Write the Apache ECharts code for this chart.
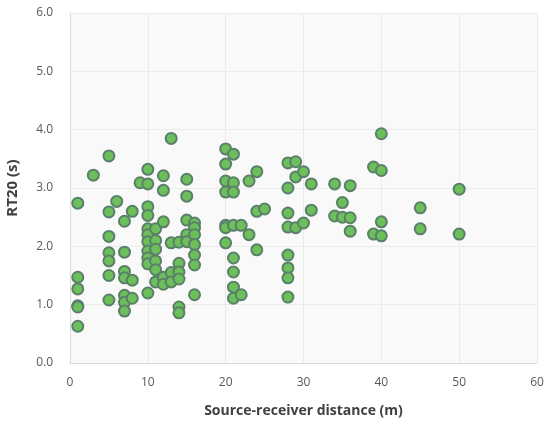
<!DOCTYPE html>
<html>
<head>
<meta charset="utf-8">
<script src="https://cdn.jsdelivr.net/npm/echarts@6/dist/echarts.min.js"></script>
<style>
  html,body{margin:0;padding:0;background:#fff;}
  #chart{width:547px;height:426px;}
</style>
</head>
<body>
<div id="chart"></div>
<script>
// source-receiver distance (m) -> RT20 values (s)
var distances = [1, 3, 5, 6, 7, 8, 9, 10, 11, 12, 13, 14, 15, 16, 20, 21, 22, 23, 24, 25, 28, 29, 30, 31, 34, 35, 36, 39, 40, 45, 50];
var rt20 = [
  [2.74, 1.47, 1.27, 0.98, 0.96, 0.63],
  [3.22],
  [3.55, 2.59, 2.17, 1.89, 1.75, 1.5, 1.08],
  [2.77],
  [2.43, 1.9, 1.57, 1.46, 1.16, 1.04, 0.89],
  [2.6, 1.42, 1.11],
  [3.09],
  [3.32, 3.07, 2.68, 2.53, 2.3, 2.2, 2.08, 1.92, 1.8, 1.7, 1.2],
  [2.3, 2.1, 1.95, 1.75, 1.6, 1.39],
  [3.21, 2.96, 2.42, 1.47, 1.35],
  [3.85, 2.06, 1.55, 1.39],
  [2.07, 1.71, 1.56, 1.44, 0.96, 0.86],
  [3.15, 2.86, 2.45, 2.2, 2.08],
  [2.4, 2.32, 2.2, 2.03, 1.85, 1.68, 1.17],
  [3.67, 3.41, 3.12, 2.93, 2.36, 2.32, 2.06],
  [3.58, 3.09, 2.93, 2.36, 1.8, 1.56, 1.3, 1.11],
  [2.36, 1.17],
  [3.12, 2.2],
  [3.28, 2.6, 1.94],
  [2.64],
  [3.43, 3.0, 2.57, 2.33, 1.85, 1.63, 1.46, 1.13],
  [3.45, 3.19, 2.32],
  [3.28, 2.4],
  [3.07, 2.62],
  [3.07, 2.52],
  [2.75, 2.5],
  [3.04, 2.49, 2.26],
  [3.36, 2.21],
  [3.93, 3.3, 2.42, 2.18],
  [2.66, 2.3],
  [2.98, 2.21]
];

var points = [];
for (var i = 0; i < distances.length; i++) {
  for (var j = 0; j < rt20[i].length; j++) {
    points.push([distances[i], rt20[i][j]]);
  }
}

var labelColor = '#595959';
var option = {
  backgroundColor: '#ffffff',
  animation: false,
  grid: {
    left: 70, right: 10, top: 13, bottom: 63,
    outerBoundsMode: 'none',
    containLabel: false,
    show: true, backgroundColor: '#f9f9f9', borderWidth: 0
  },
  xAxis: {
    type: 'value', min: 0, max: 60, interval: 10,
    name: 'Source-receiver distance (m)',
    nameLocation: 'middle', nameGap: 41,
    nameTextStyle: { fontFamily: 'Open Sans', fontWeight: 'bold', fontSize: 14, color: '#404040' },
    axisLine: { show: true, lineStyle: { color: '#d9d9d9', width: 1 } },
    axisTick: { show: false },
    axisLabel: { color: labelColor, fontFamily: 'Open Sans', fontSize: 12, margin: 14 },
    splitLine: { show: true, lineStyle: { color: '#ebebeb', width: 1 } }
  },
  yAxis: {
    type: 'value', min: 0, max: 6, interval: 1,
    name: 'RT20 (s)',
    nameLocation: 'middle', nameGap: 50, nameRotate: 90,
    nameTextStyle: { fontFamily: 'Open Sans', fontWeight: 'bold', fontSize: 15, color: '#404040' },
    axisLine: { show: true, lineStyle: { color: '#d9d9d9', width: 1 } },
    axisTick: { show: false },
    axisLabel: {
      color: labelColor, fontFamily: 'Open Sans', fontSize: 12, margin: 17,
      formatter: function (v) { return v.toFixed(1); }
    },
    splitLine: { show: true, lineStyle: { color: '#ebebeb', width: 1 } }
  },
  series: [
    {
      name: 'RT20',
      type: 'scatter',
      data: points,
      symbol: 'circle',
      symbolSize: 11,
      itemStyle: {
        color: '#6cbf5a',
        borderColor: '#5b8069',
        borderWidth: 2,
        opacity: 1
      }
    }
  ]
};

var mychart = echarts.init(document.getElementById('chart'), null, { renderer: 'canvas' });
mychart.setOption(option);
</script>
</body>
</html>
